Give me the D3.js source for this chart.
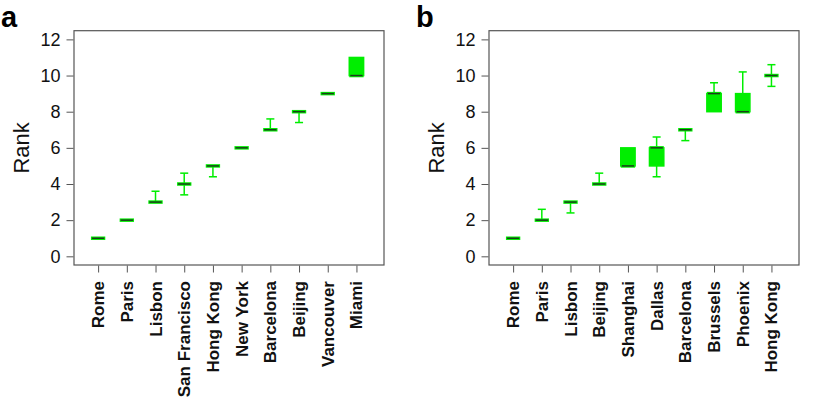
<!DOCTYPE html>
<html>
<head>
<meta charset="utf-8">
<script src="https://cdn.jsdelivr.net/npm/d3@7"></script>
<style>
  body { margin: 0; background: #fff; }
  svg { display: block; font-family: "Liberation Sans", Arial, sans-serif; }
</style>
</head>
<body>
<svg id="svg" width="830" height="412"></svg>
<script>
"use strict";

// panel a
const citiesA = ["Rome", "Paris", "Lisbon", "San Francisco", "Hong Kong", "New York", "Barcelona", "Beijing", "Vancouver", "Miami"];
const lowA  = [1, 2, 3,   3.4, 4.4, 6, 7,   7.4, 9, 10];
const q1A   = [1, 2, 3,   4,   5,   6, 7,   8,   9, 10];
const medA  = [1, 2, 3,   4,   5,   6, 7,   8,   9, 10];
const q3A   = [1, 2, 3,   4,   5,   6, 7,   8,   9, 11];
const highA = [1, 2, 3.6, 4.6, 5,   6, 7.6, 8,   9, 11];

// panel b
const citiesB = ["Rome", "Paris", "Lisbon", "Beijing", "Shanghai", "Dallas", "Barcelona", "Brussels", "Phoenix", "Hong Kong"];
const lowB  = [1, 2,   2.4, 4,   5, 4.4, 6.4, 8,   8,    9.4];
const q1B   = [1, 2,   3,   4,   5, 5,   7,   8,   8,    10];
const medB  = [1, 2,   3,   4,   5, 6,   7,   9,   8,    10];
const q3B   = [1, 2,   3,   4,   6, 6,   7,   9,   9,    10];
const highB = [1, 2.6, 3,   4.6, 6, 6.6, 7,   9.6, 10.2, 10.6];

const yTicks = [0, 2, 4, 6, 8, 10, 12];

const green = "#00ee00";
const frameColor = "#555";

const svg = d3.select("#svg");

function drawPanel(offsetX, letter, cities, low, q1, med, q3, high) {
	const left = offsetX + 74, right = offsetX + 384, top = 30.7, bottom = 265;

	const x = d3.scaleLinear().domain([0.16, 10.96]).range([left, right]);
	const y = d3.scaleLinear().domain([-0.48, 12.48]).range([bottom, top]);

	const g = svg.append("g");

	g.append("text")
		.attr("x", offsetX + 1)
		.attr("y", 26.5)
		.attr("font-size", 29)
		.attr("font-weight", "bold")
		.text(letter);

	// y axis
	const yAxis = d3.axisLeft(y).tickValues(yTicks).tickSize(7).tickPadding(6);
	const gY = g.append("g")
		.attr("transform", "translate(" + (left - 0.5) + ",0)")
		.call(yAxis);
	gY.select(".domain").remove();
	gY.selectAll("line").attr("stroke", frameColor);
	gY.selectAll("text").attr("font-size", 18).attr("fill", "#111")
		.attr("font-family", "Liberation Sans, Arial, sans-serif");

	// x axis
	const xAxis = d3.axisBottom(x).tickValues(d3.range(1, cities.length + 1)).tickSize(7).tickFormat("");
	const gX = g.append("g")
		.attr("transform", "translate(0," + (bottom + 0.5) + ")")
		.call(xAxis);
	gX.select(".domain").remove();
	gX.selectAll("line").attr("stroke", frameColor);

	g.selectAll("text.xlab")
		.data(cities)
		.enter()
		.append("text")
		.attr("class", "xlab")
		.attr("transform", (d, i) => "translate(" + (x(i + 1) + 6) + "," + 281 + ") rotate(-90)")
		.attr("text-anchor", "end")
		.attr("font-size", 17)
		.attr("font-weight", "bold")
		.attr("fill", "#111")
		.text(d => d);

	// frame
	g.append("rect")
		.attr("x", left)
		.attr("y", top)
		.attr("width", right - left)
		.attr("height", bottom - top)
		.attr("fill", "none")
		.attr("stroke", frameColor)
		.attr("stroke-width", 1.2);

	// y title
	g.append("text")
		.attr("transform", "translate(" + (offsetX + 29) + "," + ((top + bottom) / 2) + ") rotate(-90)")
		.attr("text-anchor", "middle")
		.attr("font-size", 22)
		.attr("fill", "#111")
		.text("Rank");

	const boxHalf = 0.25, capHalf = 0.14;

	const boxes = g.selectAll("g.box")
		.data(cities.map((c, i) => ({ pos: i + 1, low: low[i], q1: q1[i], med: med[i], q3: q3[i], high: high[i] })))
		.enter()
		.append("g")
		.attr("class", "box");

	// whiskers
	boxes.append("line")
		.attr("x1", d => x(d.pos)).attr("x2", d => x(d.pos))
		.attr("y1", d => y(d.low)).attr("y2", d => y(d.q1))
		.attr("stroke", green).attr("stroke-width", 1.5);
	boxes.append("line")
		.attr("x1", d => x(d.pos)).attr("x2", d => x(d.pos))
		.attr("y1", d => y(d.q3)).attr("y2", d => y(d.high))
		.attr("stroke", green).attr("stroke-width", 1.5);
	boxes.filter(d => d.low < d.q1).append("line")
		.attr("x1", d => x(d.pos - capHalf)).attr("x2", d => x(d.pos + capHalf))
		.attr("y1", d => y(d.low)).attr("y2", d => y(d.low))
		.attr("stroke", green).attr("stroke-width", 1.5);
	boxes.filter(d => d.high > d.q3).append("line")
		.attr("x1", d => x(d.pos - capHalf)).attr("x2", d => x(d.pos + capHalf))
		.attr("y1", d => y(d.high)).attr("y2", d => y(d.high))
		.attr("stroke", green).attr("stroke-width", 1.5);

	// box
	boxes.append("rect")
		.attr("x", d => x(d.pos - boxHalf))
		.attr("y", d => y(d.q3))
		.attr("width", d => x(d.pos + boxHalf) - x(d.pos - boxHalf))
		.attr("height", d => y(d.q1) - y(d.q3))
		.attr("fill", green)
		.attr("stroke", green)
		.attr("stroke-width", 1.5);

	// median
	boxes.append("line")
		.attr("x1", d => x(d.pos - boxHalf)).attr("x2", d => x(d.pos + boxHalf))
		.attr("y1", d => y(d.med)).attr("y2", d => y(d.med))
		.attr("stroke", green).attr("stroke-width", 3.5);
	boxes.append("line")
		.attr("x1", d => x(d.pos - boxHalf) + 1).attr("x2", d => x(d.pos + boxHalf) - 1)
		.attr("y1", d => y(d.med)).attr("y2", d => y(d.med))
		.attr("stroke", "#1c3c1c").attr("stroke-width", 1.5);
}

drawPanel(0, "a", citiesA, lowA, q1A, medA, q3A, highA);
drawPanel(415, "b", citiesB, lowB, q1B, medB, q3B, highB);
</script>
</body>
</html>
